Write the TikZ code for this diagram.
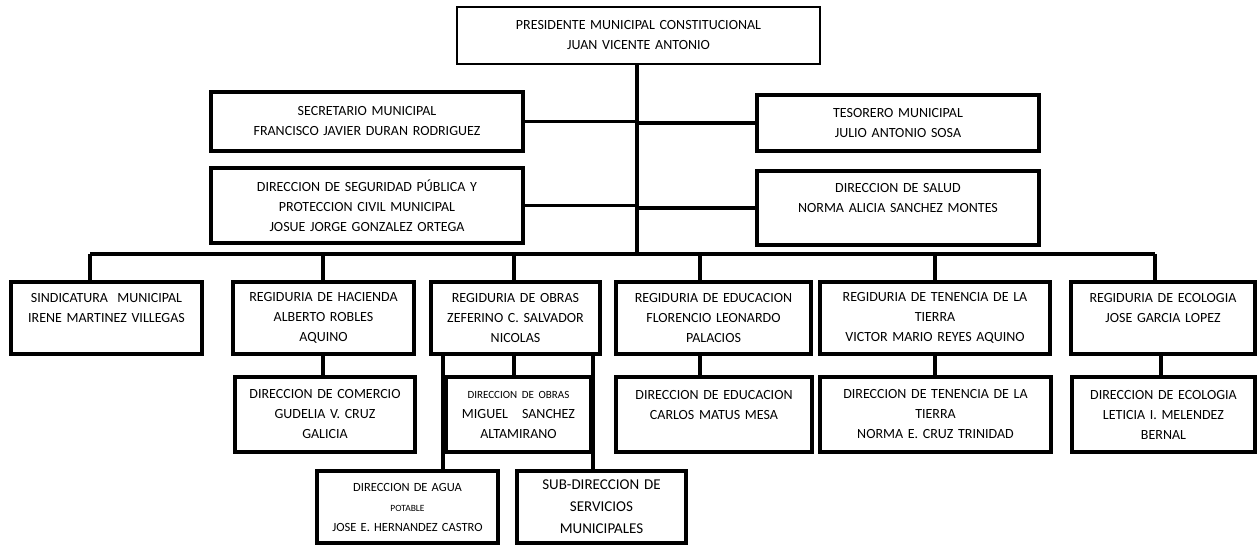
\documentclass[tikz,border=0pt]{standalone}
\usepackage{fontspec}
\setmainfont{Carlito}
\tikzset{
  cargo/.style={draw, line width=3.2pt, align=center, inner sep=0pt, font=\fontsize{14}{20}\selectfont},
  enlace/.style={line width=3.2pt}
}

\begin{document}
\begin{tikzpicture}[x=1pt, y=-1pt]
      \useasboundingbox (0,0) rectangle (1259,546);

      % Box for presidente
      \node[cargo, line width=2.4pt, text width=363pt, minimum height=57pt] (pres) at (638.5,35.5) {PRESIDENTE MUNICIPAL CONSTITUCIONAL\\JUAN VICENTE ANTONIO};

      % Boxes hanging on the trunk
      \node[cargo, text width=312pt, minimum height=59pt] (secre) at (367,121.5) {SECRETARIO MUNICIPAL\\FRANCISCO JAVIER DURAN RODRIGUEZ};
      \node[cargo, text width=312pt, minimum height=75pt] (segur) at (367,205.5) {DIRECCION DE SEGURIDAD PÚBLICA Y\\PROTECCION CIVIL MUNICIPAL\\JOSUE JORGE GONZALEZ ORTEGA};
      \node[cargo, text width=282pt, minimum height=56pt] (teso) at (898,123) {TESORERO MUNICIPAL\\JULIO ANTONIO SOSA};
      \node[cargo, text width=282pt, minimum height=74pt] (salud) at (898,208) {DIRECCION DE SALUD\\NORMA ALICIA SANCHEZ MONTES\\\mbox{}};

      % Row of regidurias
      \node[cargo, text width=191pt, minimum height=72pt] (sind) at (106.5,318) {SINDICATURA\ \ MUNICIPAL\\IRENE MARTINEZ VILLEGAS\\\mbox{}};
      \node[cargo, text width=181pt, minimum height=72pt] (hacienda) at (323.5,318) {REGIDURIA DE HACIENDA\\ALBERTO ROBLES\\AQUINO};
      \node[cargo, text width=169pt, minimum height=72pt] (obras) at (515.5,318) {REGIDURIA DE OBRAS\\ZEFERINO C. SALVADOR\\NICOLAS};
      \node[cargo, text width=195pt, minimum height=72pt] (educ) at (713.5,318) {REGIDURIA DE EDUCACION\\FLORENCIO LEONARDO\\PALACIOS};
      \node[cargo, text width=230pt, minimum height=72pt] (tenen) at (935,318) {REGIDURIA DE TENENCIA DE LA\\TIERRA\\VICTOR MARIO REYES AQUINO};
      \node[cargo, text width=184pt, minimum height=72pt] (ecol) at (1163,318) {REGIDURIA DE ECOLOGIA\\JOSE GARCIA LOPEZ\\\mbox{}};

      % Row of direcciones
      \node[cargo, text width=180pt, minimum height=75pt] (comercio) at (325,414.5) {DIRECCION DE COMERCIO\\GUDELIA V. CRUZ\\GALICIA};
      \node[cargo, text width=145pt, minimum height=75pt] (dirobras) at (518.5,414.5) {{\fontsize{11}{20}\selectfont DIRECCION DE OBRAS}\\MIGUEL\ \ \ SANCHEZ\\ALTAMIRANO};
      \node[cargo, text width=196pt, minimum height=75pt] (direduc) at (714,414.5) {DIRECCION DE EDUCACION\\CARLOS MATUS MESA\\\mbox{}};
      \node[cargo, text width=231pt, minimum height=75pt] (dirtenen) at (935.5,414.5) {DIRECCION DE TENENCIA DE LA\\TIERRA\\NORMA E. CRUZ TRINIDAD};
      \node[cargo, text width=183pt, minimum height=75pt] (direcol) at (1163.5,414.5) {DIRECCION DE ECOLOGIA\\LETICIA I. MELENDEZ\\BERNAL};

      % Boxes under obras
      \node[cargo, text width=181pt, minimum height=72pt, font=\fontsize{12.5}{20}\selectfont] (agua) at (407.5,507) {DIRECCION DE AGUA\\{\fontsize{9.5}{20}\selectfont POTABLE}\\JOSE E. HERNANDEZ CASTRO};
      \node[cargo, text width=169pt, minimum height=72pt, font=\fontsize{15}{22}\selectfont] (subdir) at (601.5,507) {SUB-DIRECCION DE\\SERVICIOS\\MUNICIPALES};

      % Trunk and bus
      \coordinate (bus) at (637,254);
      \coordinate (b-sind) at (90,254);
      \coordinate (b-hac) at (323,254);
      \coordinate (b-obr) at (514,254);
      \coordinate (b-edu) at (700,254);
      \coordinate (b-ten) at (935,254);
      \coordinate (b-eco) at (1155,254);
      \coordinate (x-agua) at (443,0);
      \coordinate (x-sub) at (593,0);
      \coordinate (x-eco) at (1161,0);

      \draw[enlace] (pres.south -| bus) -- (bus);
      \draw[enlace] (secre.east) -- (secre.east -| bus);
      \draw[enlace] (segur.east) -- (segur.east -| bus);
      \draw[enlace] (teso.west) -- (teso.west -| bus);
      \draw[enlace] (salud.west) -- (salud.west -| bus);
      \draw[enlace] (b-sind) -- (b-eco);

      % Drops to the regidurias
      \draw[enlace] (b-sind) -- (b-sind |- sind.north);
      \draw[enlace] (b-hac) -- (b-hac |- hacienda.north);
      \draw[enlace] (b-obr) -- (b-obr |- obras.north);
      \draw[enlace] (b-edu) -- (b-edu |- educ.north);
      \draw[enlace] (b-ten) -- (b-ten |- tenen.north);
      \draw[enlace] (b-eco) -- (b-eco |- ecol.north);

      % Regidurias to direcciones
      \draw[enlace] (hacienda.south -| b-hac) -- (comercio.north -| b-hac);
      \draw[enlace] (obras.south -| b-obr) -- (dirobras.north -| b-obr);
      \draw[enlace] (educ.south -| b-edu) -- (direduc.north -| b-edu);
      \draw[enlace] (tenen.south -| b-ten) -- (dirtenen.north -| b-ten);
      \draw[enlace] (ecol.south -| x-eco) -- (direcol.north -| x-eco);
      \draw[enlace] (obras.south -| x-agua) -- (agua.north -| x-agua);
      \draw[enlace] (obras.south -| x-sub) -- (subdir.north -| x-sub);
\end{tikzpicture}
\end{document}
